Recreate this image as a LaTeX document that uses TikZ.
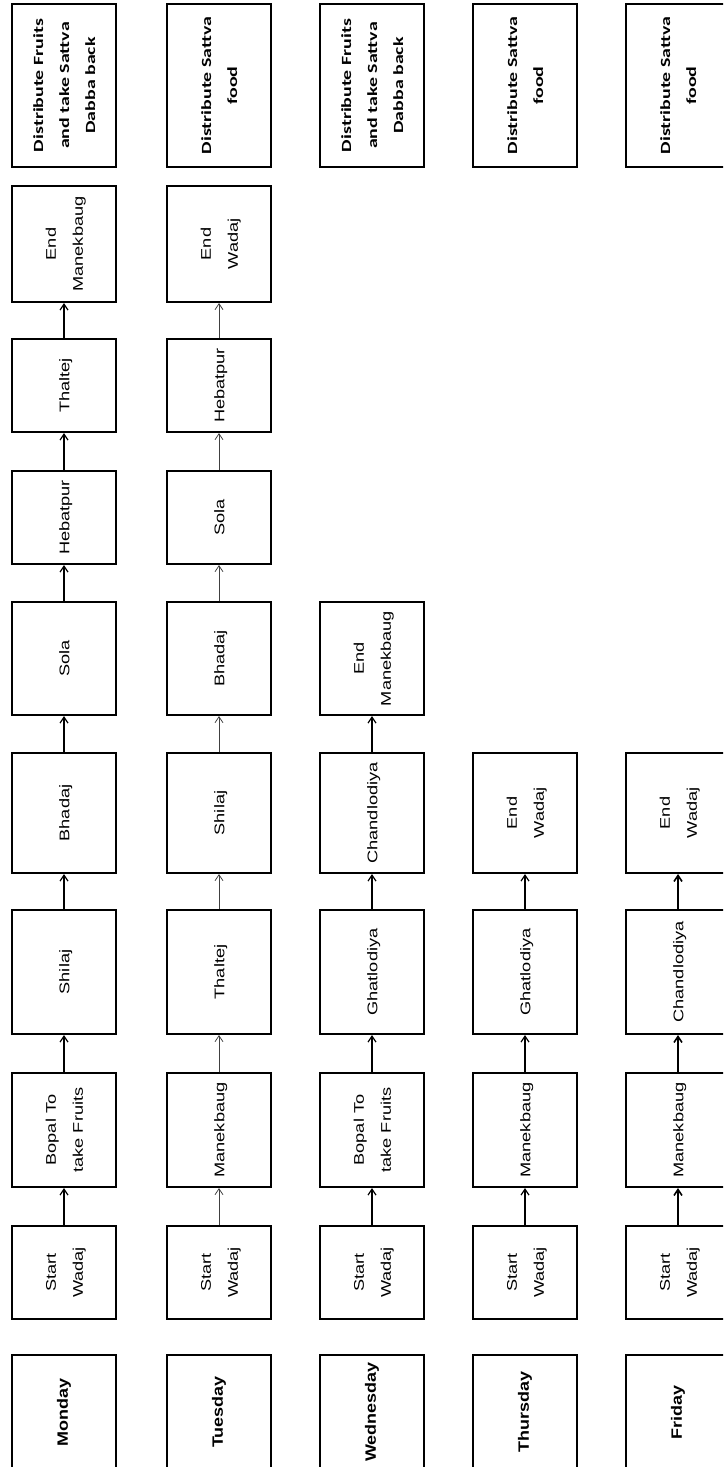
\documentclass[tikz,border=0pt]{standalone}
\usepackage{fontspec}
\setmainfont{Liberation Sans}
\newfontfamily\calfont{Carlito}
\usetikzlibrary{arrows.meta}
\newcommand\ptext[1]{\rotatebox{90}{\scalebox{1.3}[1]{\fontsize{7}{13.5}\selectfont\begin{tabular}{@{}c@{}}#1\end{tabular}}}}
\newcommand\dtext[1]{\rotatebox{90}{\scalebox{1.2}[1]{\fontsize{7.5}{13}\selectfont\bfseries #1}}}
\newcommand\ftext[1]{\rotatebox{90}{\scalebox{1.42}[1]{\calfont\bfseries\fontsize{7}{13}\selectfont\begin{tabular}{@{}c@{}}#1\end{tabular}}}}
\newcommand\pbox[7]{\node[#2, minimum width={(#5-#3)*0.5pt}, minimum height={(#6-#4)*0.5pt}] (#1) at ({(#3+#5)/2},{(#4+#6)/2}) {#7};}
\tikzset{
  boxst/.style={draw, line width=1pt, inner sep=0pt, fill=white},
  flow/.style={line width=0.6pt, -{Straight Barb[length=3pt,width=4pt]}},
  flowthin/.style={flow, line width=0.4pt, draw=black!75},
}
\begin{document}
\begin{tikzpicture}[x=0.5pt,y=-0.5pt]
\useasboundingbox (0,0) rectangle (723,1467);
\clip (0,0) rectangle (723,1467);
% Monday
\pbox{mo0}{boxst}{12}{1355}{116}{1469}{\dtext{Monday}}
\pbox{mo1}{boxst}{12}{1226}{116}{1319}{\ptext{Start\\Wadaj}}
\pbox{mo2}{boxst}{12}{1073}{116}{1187}{\ptext{Bopal To\\take Fruits}}
\pbox{mo3}{boxst}{12}{910}{116}{1034}{\ptext{Shilaj}}
\pbox{mo4}{boxst}{12}{753}{116}{873}{\ptext{Bhadaj}}
\pbox{mo5}{boxst}{12}{602}{116}{715}{\ptext{Sola}}
\pbox{mo6}{boxst}{12}{471}{116}{564}{\ptext{Hebatpur}}
\pbox{mo7}{boxst}{12}{339}{116}{432}{\ptext{Thaltej}}
\pbox{mo8}{boxst}{12}{186}{116}{302}{\ptext{End\\Manekbaug}}
\pbox{mo9}{boxst}{12}{4}{116}{167}{\ftext{Distribute Fruits\\and take Sattva\\Dabba back}}
% Tuesday
\pbox{tu0}{boxst}{167}{1355}{271}{1469}{\dtext{Tuesday}}
\pbox{tu1}{boxst}{167}{1226}{271}{1319}{\ptext{Start\\Wadaj}}
\pbox{tu2}{boxst}{167}{1073}{271}{1187}{\ptext{Manekbaug}}
\pbox{tu3}{boxst}{167}{910}{271}{1034}{\ptext{Thaltej}}
\pbox{tu4}{boxst}{167}{753}{271}{873}{\ptext{Shilaj}}
\pbox{tu5}{boxst}{167}{602}{271}{715}{\ptext{Bhadaj}}
\pbox{tu6}{boxst}{167}{471}{271}{564}{\ptext{Sola}}
\pbox{tu7}{boxst}{167}{339}{271}{432}{\ptext{Hebatpur}}
\pbox{tu8}{boxst}{167}{186}{271}{302}{\ptext{End\\Wadaj}}
\pbox{tu9}{boxst}{167}{4}{271}{167}{\ftext{Distribute Sattva\\food}}
% Wednesday
\pbox{we0}{boxst}{320}{1355}{424}{1469}{\dtext{Wednesday}}
\pbox{we1}{boxst}{320}{1226}{424}{1319}{\ptext{Start\\Wadaj}}
\pbox{we2}{boxst}{320}{1073}{424}{1187}{\ptext{Bopal To\\take Fruits}}
\pbox{we3}{boxst}{320}{910}{424}{1034}{\ptext{Ghatlodiya}}
\pbox{we4}{boxst}{320}{753}{424}{873}{\ptext{Chandlodiya}}
\pbox{we5}{boxst}{320}{602}{424}{715}{\ptext{End\\Manekbaug}}
\pbox{we9}{boxst}{320}{4}{424}{167}{\ftext{Distribute Fruits\\and take Sattva\\Dabba back}}
% Thursday
\pbox{th0}{boxst}{473}{1355}{577}{1469}{\dtext{Thursday}}
\pbox{th1}{boxst}{473}{1226}{577}{1319}{\ptext{Start\\Wadaj}}
\pbox{th2}{boxst}{473}{1073}{577}{1187}{\ptext{Manekbaug}}
\pbox{th3}{boxst}{473}{910}{577}{1034}{\ptext{Ghatlodiya}}
\pbox{th4}{boxst}{473}{753}{577}{873}{\ptext{End\\Wadaj}}
\pbox{th9}{boxst}{473}{4}{577}{167}{\ftext{Distribute Sattva\\food}}
% Friday
\pbox{fr0}{boxst}{626}{1355}{730}{1469}{\dtext{Friday}}
\pbox{fr1}{boxst}{626}{1226}{730}{1319}{\ptext{Start\\Wadaj}}
\pbox{fr2}{boxst}{626}{1073}{730}{1187}{\ptext{Manekbaug}}
\pbox{fr3}{boxst}{626}{910}{730}{1034}{\ptext{Chandlodiya}}
\pbox{fr4}{boxst}{626}{753}{730}{873}{\ptext{End\\Wadaj}}
\pbox{fr9}{boxst}{626}{4}{730}{167}{\ftext{Distribute Sattva\\food}}
% connectors
\foreach \a/\b in {1/2,2/3,3/4,4/5,5/6,6/7,7/8} {
  \draw[flow] (mo\a.north) -- (mo\b.south);
  \draw[flowthin] (tu\a.north) -- (tu\b.south);
}
\foreach \a/\b in {1/2,2/3,3/4,4/5} {
  \draw[flow] (we\a.north) -- (we\b.south);
}
\foreach \a/\b in {1/2,2/3,3/4} {
  \draw[flow] (th\a.north) -- (th\b.south);
  \draw[flow, line width=0.8pt] (fr\a.north) -- (fr\b.south);
}
\end{tikzpicture}
\end{document}
